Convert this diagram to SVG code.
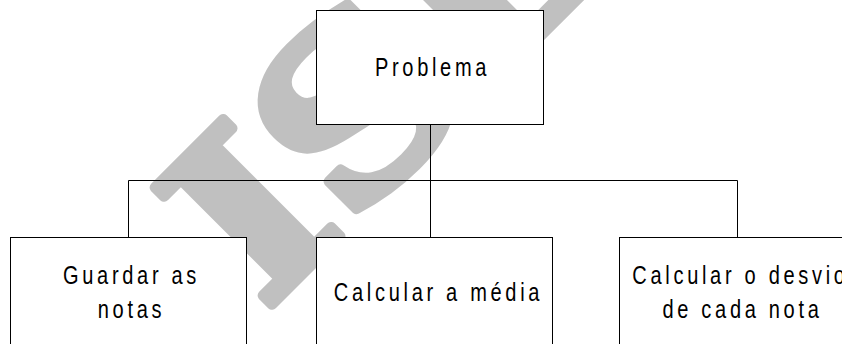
<svg xmlns="http://www.w3.org/2000/svg" width="842" height="344" viewBox="0 0 842 344">
<style>
.box{fill:#fff;stroke:#000;stroke-width:1}
.lbl{font-family:"Liberation Sans",Arial,sans-serif;font-size:26px;letter-spacing:4.8px;fill:#000}
.conn{fill:none;stroke:#000;stroke-width:1}
.wm{font-family:"DejaVu Serif",serif;font-weight:bold;font-size:228px;fill:#c0c0c0;stroke:#c0c0c0;stroke-width:10px;stroke-linejoin:round}
</style>
<rect width="842" height="344" fill="#fff"/>
<text class="wm" transform="translate(264,313) rotate(-45) scale(1.12,1)">ISE</text>
<g id="connectors">
<path class="conn" d="M430.5,124.5 V180.5 M128.5,237.5 V180.5 H737.5 V237.5 M430.5,180.5 V237.5"/>
</g>
<g id="problema">
<rect class="box" x="316.5" y="10.5" width="227" height="114"/>
<text class="lbl" text-anchor="middle" transform="translate(432.5,76) scale(0.77,1)">Problema</text>
</g>
<g id="guardar">
<rect class="box" x="10.5" y="237.5" width="236" height="120"/>
<text class="lbl" text-anchor="middle" transform="translate(131.5,284.3) scale(0.77,1)">Guardar as</text>
<text class="lbl" text-anchor="middle" transform="translate(131.5,317.7) scale(0.77,1)">notas</text>
</g>
<g id="media">
<rect class="box" x="316.5" y="237.5" width="236" height="120"/>
<text class="lbl" text-anchor="middle" transform="translate(438.5,301) scale(0.77,1)">Calcular a média</text>
</g>
<g id="desvio">
<rect class="box" x="619.5" y="237.5" width="250" height="120"/>
<text class="lbl" text-anchor="middle" transform="translate(740.5,284.3) scale(0.77,1)">Calcular o desvio</text>
<text class="lbl" text-anchor="middle" transform="translate(742.5,317.7) scale(0.77,1)">de cada nota</text>
</g>
</svg>
